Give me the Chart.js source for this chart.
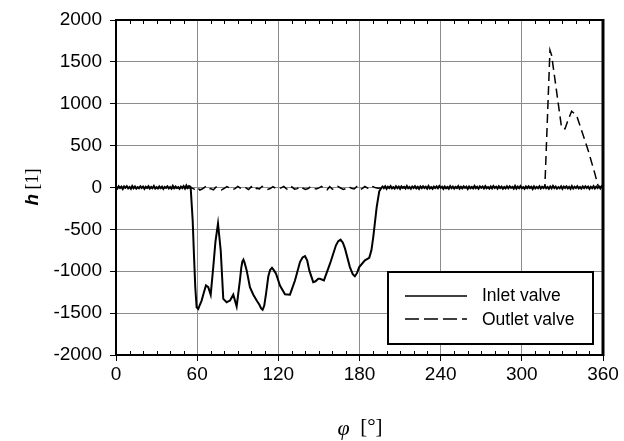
<!DOCTYPE html>
<html>
<head>
<meta charset="utf-8">
<script src="https://cdn.jsdelivr.net/npm/chart.js@4/dist/chart.umd.min.js"></script>
<style>
  html, body { margin: 0; padding: 0; background: #fff; }
  #wrap { width: 624px; height: 441px; }
</style>
</head>
<body>
<div id="wrap"><canvas id="valveChart" width="624" height="441"></canvas></div>
<script>
// === DATA ===
// inlet valve: noise before opening, sampled every 1 deg from 0
const inletLeadH = [
    8, -12, 15, -6, 10, -18, 12, -4, 16, -10,
    6, -15, 18, -8, 12, -14, 5, -10, 14, -6,
    11, -16, 9, -5, 15, -12, 7, -9, 17, -13,
    4, -11, 13, -7, 10, -17, 8, -3, 14, -10,
    6, -14, 19, -9, 12, -6, 5, -15, 11, -8,
    16, -12, 24, -4, 18, 10
];
// inlet valve: open phase
const inletOpenAngle = [
    55.2, 56.7, 57.6, 58.6, 59.6, 60.8, 62, 63.3, 65, 66.5,
    68.2, 70, 71.9, 73.5, 75.4, 77.4, 79.3, 81.8, 84.3, 86.7,
    89.2, 91.6, 92.6, 93.4, 94.2, 95.1, 96.6, 99, 101.5, 104,
    106, 107.2, 108.4, 109.6, 110.9, 112.6, 113.9, 115.3, 116.8, 118.3,
    121.2, 124.9, 128.6, 132.3, 136, 137.9, 139.7, 141.3, 142.9, 145.8,
    147.5, 149.5, 150.8, 153.7, 158.2, 162.6, 164.3, 166, 167.7, 169.3,
    172.9, 175, 176.6, 178.2, 179.8, 184, 187.2, 188.8, 190.2, 192.7,
    194.6, 196.4
];
const inletOpenH = [
    0, -400, -790, -1190, -1430, -1450, -1400, -1350, -1250, -1170,
    -1190, -1280, -950, -650, -430, -750, -1330, -1370, -1350, -1280,
    -1420, -1110, -960, -885, -862, -900, -990, -1190, -1280, -1350,
    -1400, -1440, -1460, -1410, -1270, -1060, -985, -960, -990, -1030,
    -1170, -1275, -1280, -1110, -890, -835, -820, -870, -990, -1130,
    -1120, -1090, -1090, -1110, -910, -690, -640, -622, -660, -730,
    -950, -1035, -1060, -1020, -950, -870, -840, -750, -590, -235,
    -45, 0
];
// inlet valve: noise after closing, every 1 deg from 197
const inletTrailH = [
    12, -8, 14, -15, 9, -6, 17, -11, 5, -13,
    15, -7, 10, -16, 13, -4, 8, -12, 18, -9,
    6, -14, 11, -5, 16, -10, 7, -17, 12, -8,
    14, -6, 9, -13, 17, -11, 4, -15, 10, -7,
    13, -9, 18, -5, 8, -16, 12, -10, 6, -14,
    15, -8, 11, -12, 7, -6, 16, -13, 9, -10,
    14, -5, 10, -17, 12, -9, 6, -11, 18, -7,
    8, -15, 13, -4, 11, -12, 16, -8, 5, -14,
    12, -10, 17, -6, 9, -13, 14, -7, 10, -16,
    6, -11, 15, -9, 13, -5, 8, -14, 18, -12,
    11, -7, 16, -10, 4, -15, 12, -8, 14, -6,
    9, -17, 13, -11, 7, -9, 15, -12, 10, -5,
    16, -8, 6, -14, 12, -10, 18, -7, 11, -13,
    5, -9, 14, -16, 10, -6, 13, -11, 8, -15,
    17, -12, 9, -7, 15, -10, 6, -13, 12, -8,
    14, -5, 11, -16, 8, -9, 16, -12, 10, -7,
    13, -10, 15, 4
];
// outlet valve: small wiggles while inlet is open, every 2 deg from 56
const outletWiggleH = [
    -5, -20, 5, -30, -15, 8, -25, -12, -28, 6,
    -18, -30, -10, 10, -6, -26, -14, 12, -9, -20,
    -3, -24, 10, -30, -8, -18, 14, -6, -22, -12,
    10, -10, -20, -4, 12, -16, -32, 8, -20, -14,
    15, -6, -22, -12, 12, -10, -18, -4, 14, -15,
    -28, 10, -20, -14, 14, -6, -24, -12, 12, -10,
    -18, 10, -26, -14, 12, -8, -22, 10, -4, -10,
    -5
];
// outlet valve: open phase
const outletOpenAngle = [196, 316, 317, 320.8, 322, 329.4, 331.9, 333.6, 336.8, 340.5, 349.1, 354, 356.5, 360];
const outletOpenH     = [0, 0, 0, 1640, 1580, 713, 700, 780, 910, 860, 440, 165, 10, 0];

const xTicks = [0, 60, 120, 180, 240, 300, 360];
const yTicks = [-2000, -1500, -1000, -500, 0, 500, 1000, 1500, 2000];
const seriesNames = ["Inlet valve", "Outlet valve"];

// === BUILD POINTS ===
const inletPts = [];
inletLeadH.forEach((h, i) => inletPts.push({ x: i, y: h }));
inletOpenAngle.forEach((a, i) => inletPts.push({ x: a, y: inletOpenH[i] }));
inletTrailH.forEach((h, i) => inletPts.push({ x: 197 + i, y: h }));

const outletPts = [{ x: 0, y: 0 }];
outletWiggleH.forEach((h, i) => outletPts.push({ x: 56 + 2 * i, y: h }));
outletOpenAngle.forEach((a, i) => outletPts.push({ x: a, y: outletOpenH[i] }));

const SANS = '"Liberation Sans", Arial, sans-serif';
const SERIF = '"Liberation Serif", "Times New Roman", serif';

// frame, minor ticks, legend box, axis titles
const decor = {
    id: "decor",
    afterDatasetsDraw(chart) {
        const { ctx, chartArea: a, scales } = chart;
        const xs = scales.x;
        ctx.save();
        ctx.strokeStyle = "#000";
        // minor ticks every 10 deg, inward at bottom and top
        ctx.lineWidth = 1;
        ctx.beginPath();
        for (let v = 10; v < 360; v += 10) {
            if (v % 60 === 0) continue;
            const px = Math.round(xs.getPixelForValue(v)) + 0.5;
            ctx.moveTo(px, a.bottom); ctx.lineTo(px, a.bottom - 4);
            ctx.moveTo(px, a.top); ctx.lineTo(px, a.top + 4);
        }
        ctx.stroke();
        // top and right border
        ctx.lineWidth = 2;
        ctx.beginPath();
        ctx.moveTo(a.left, a.top); ctx.lineTo(a.right, a.top);
        ctx.stroke();
        ctx.lineWidth = 3;
        ctx.beginPath();
        ctx.moveTo(a.right, a.top - 1); ctx.lineTo(a.right, a.bottom + 1);
        ctx.stroke();

        // legend box
        const bx = 388, by = 272, bw = 205, bh = 72;
        ctx.fillStyle = "#fff";
        ctx.fillRect(bx, by, bw, bh);
        ctx.lineWidth = 2;
        ctx.strokeRect(bx, by, bw, bh);
        ctx.lineWidth = 1.5;
        ctx.beginPath();
        ctx.moveTo(405, 296); ctx.lineTo(467, 296);
        ctx.stroke();
        ctx.setLineDash([14, 5]);
        ctx.beginPath();
        ctx.moveTo(405, 319); ctx.lineTo(467, 319);
        ctx.stroke();
        ctx.setLineDash([]);
        ctx.fillStyle = "#000";
        ctx.font = "17.5px " + SANS;
        ctx.textBaseline = "middle";
        ctx.textAlign = "left";
        ctx.fillText(seriesNames[0], 482, 296);
        ctx.fillText(seriesNames[1], 482, 320);
        ctx.restore();
    },
    afterDraw(chart) {
        const { ctx } = chart;
        ctx.save();
        ctx.fillStyle = "#000";
        ctx.textBaseline = "middle";
        // x title: phi [deg]
        ctx.textAlign = "left";
        ctx.font = "italic 22px " + SERIF;
        const w1 = ctx.measureText("\u03c6").width;
        ctx.font = "21px " + SERIF;
        const w2 = ctx.measureText("  [\u00b0]").width;
        let x0 = 360 - (w1 + w2) / 2;
        ctx.font = "italic 22px " + SERIF;
        ctx.fillText("\u03c6", x0, 429);
        ctx.font = "21px " + SERIF;
        ctx.fillText("  [\u00b0]", x0 + w1, 427);
        // y title: h [1]
        ctx.translate(33, 187);
        ctx.rotate(-Math.PI / 2);
        ctx.font = "bold italic 19px " + SANS;
        const h1 = ctx.measureText("h").width;
        ctx.font = "18px " + SERIF;
        const h2 = ctx.measureText(" [1]").width;
        const s = -(h1 + h2) / 2;
        ctx.font = "bold italic 19px " + SANS;
        ctx.fillText("h", s, 0);
        ctx.font = "18px " + SERIF;
        ctx.fillText(" [1]", s + h1, 0);
        ctx.restore();
    }
};

const valveChart = new Chart(document.getElementById("valveChart"), {
    type: "line",
    data: {
        datasets: [
            {
                label: seriesNames[0],
                data: inletPts,
                borderColor: "#000",
                borderWidth: 2,
                pointRadius: 0,
                tension: 0
            },
            {
                label: seriesNames[1],
                data: outletPts,
                borderColor: "#000",
                borderWidth: 1.5,
                borderDash: [9, 5],
                pointRadius: 0,
                tension: 0
            }
        ]
    },
    options: {
        responsive: false,
        animation: false,
        plugins: { legend: { display: false }, tooltip: { enabled: false } },
        layout: { padding: { left: 0, top: 20, right: 21, bottom: 0 } },
        scales: {
            x: {
                type: "linear",
                min: 0,
                max: 360,
                afterBuildTicks: s => { s.ticks = xTicks.map(v => ({ value: v })); },
                afterFit: s => { s.height = 86; },
                ticks: {
                    color: "#000",
                    font: { family: SANS, size: 19 },
                    padding: 2,
                    maxRotation: 0,
                    callback: v => String(v)
                },
                grid: { color: "#8c8c8c", lineWidth: 1, tickColor: "#000", tickLength: 6 },
                border: { color: "#000", width: 2 }
            },
            y: {
                min: -2000,
                max: 2000,
                afterBuildTicks: s => { s.ticks = yTicks.map(v => ({ value: v })); },
                afterFit: s => { s.width = 116; },
                ticks: {
                    color: "#000",
                    font: { family: SANS, size: 19 },
                    padding: 8,
                    callback: v => String(v)
                },
                grid: { color: "#8c8c8c", lineWidth: 1, tickColor: "#000", tickLength: 6 },
                border: { color: "#000", width: 2 }
            }
        }
    },
    plugins: [decor]
});
</script>
</body>
</html>
